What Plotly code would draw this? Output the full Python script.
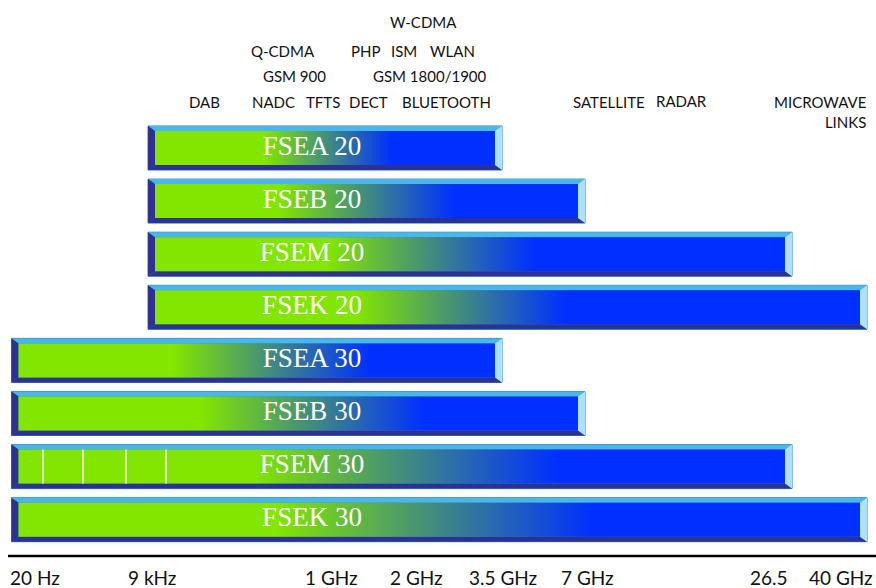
import plotly.graph_objects as go

# ---------------- data ----------------
models = ["FSEA 20", "FSEB 20", "FSEM 20", "FSEK 20",
          "FSEA 30", "FSEB 30", "FSEM 30", "FSEK 30"]
start_freq = ["9 kHz", "9 kHz", "9 kHz", "9 kHz",
              "20 Hz", "20 Hz", "20 Hz", "20 Hz"]
stop_freq = ["3.5 GHz", "7 GHz", "26.5 GHz", "40 GHz",
             "3.5 GHz", "7 GHz", "26.5 GHz", "40 GHz"]

tick_freqs = ["20 Hz", "9 kHz", "1 GHz", "2 GHz", "3.5 GHz", "7 GHz", "26.5 GHz", "40 GHz"]
tick_labels = ["20 Hz", "9 kHz", "1 GHz", "2 GHz", "3.5 GHz", "7 GHz", "26.5", "40 GHz"]
# position of each frequency on the chart's non-uniform frequency scale
tick_scale = [11.5, 148, 331, 416, 502, 585, 792, 867]

# application bands written above the bars
app_labels = ["W-CDMA", "Q-CDMA", "PHP", "ISM", "WLAN", "GSM 900", "GSM 1800/1900",
              "DAB", "NADC", "TFTS", "DECT", "BLUETOOTH", "SATELLITE", "RADAR",
              "MICROWAVE<br>LINKS"]

# decade dividers drawn in the FSEM 30 bar (scale positions)
fsem30_dividers = [43, 83, 126, 166]

# ---------------- layout helpers ----------------
W, H = 876, 588
ROW0, ROWSTEP = 148.0, 53.1          # pixel centre of first row, pixels per row
y_top = -ROW0 / ROWSTEP
y_bot = (H - ROW0) / ROWSTEP
HALF = 22.0 / ROWSTEP                # half bar height in row units
BX, BY = 7.0, 5.0 / ROWSTEP          # bevel thickness

GREEN, BLUE = "#82e600", "#0030ff"
NAVY, SKY, PALE, EDGE = "#2e3192", "#4db6e8", "#aee0f8", "#1b8ad0"

# gradient spans (fraction of bar width)
grad_from = [0.33, 0.30, 0.28, 0.29, 0.33, 0.33, 0.31, 0.31]
grad_to = [0.69, 0.70, 0.60, 0.58, 0.73, 0.72, 0.70, 0.68]

pos = dict(zip(tick_freqs, tick_scale))

fig = go.Figure()


def poly(xs, ys, color, line=None):
    fig.add_trace(go.Scatter(
        x=xs + [xs[0]], y=ys + [ys[0]], mode="lines", fill="toself",
        fillcolor=color, line=dict(width=0 if line is None else 1,
                                   color=line or color),
        hoverinfo="skip", showlegend=False))


for i, (m, s, e) in enumerate(zip(models, start_freq, stop_freq)):
    x0, x1 = pos[s], pos[e]
    yt, yb = i - HALF, i + HALF
    # outer frame
    poly([x0, x1, x1, x0], [yt, yt, yb, yb], EDGE, line=EDGE)
    # bevels
    poly([x0, x1, x1 - BX, x0 + BX], [yt, yt, yt + BY, yt + BY], SKY)
    poly([x0, x1, x1 - BX, x0 + BX], [yb, yb, yb - BY, yb - BY], NAVY)
    poly([x0, x0 + BX, x0 + BX, x0], [yt, yt + BY, yb - BY, yb], NAVY)
    poly([x1, x1 - BX, x1 - BX, x1], [yt, yt + BY, yb - BY, yb], PALE)
    # gradient face
    fx0, fx1 = x0 + BX, x1 - BX
    gs = x0 + grad_from[i] * (x1 - x0)
    ge = x0 + grad_to[i] * (x1 - x0)
    fig.add_trace(go.Scatter(
        x=[fx0, fx1, fx1, fx0, fx0], y=[yt + BY, yt + BY, yb - BY, yb - BY, yt + BY],
        mode="lines", fill="toself", line=dict(width=0),
        fillgradient=dict(type="horizontal", start=gs, stop=ge,
                          colorscale=[[0, GREEN], [1, BLUE]]),
        hoverinfo="skip", showlegend=False))
    if m == "FSEM 30":
        for d in fsem30_dividers:
            fig.add_trace(go.Scatter(
                x=[d, d], y=[yt + BY, yb - BY], mode="lines",
                line=dict(color="white", width=1.5),
                hoverinfo="skip", showlegend=False))

# model names on the bars
fig.add_trace(go.Scatter(
    x=[312] * len(models), y=list(range(len(models))), mode="text",
    text=models, textposition="middle center",
    textfont=dict(family="Liberation Serif", size=27, color="white"),
    hoverinfo="skip", showlegend=False))

annotations = []
# application labels: (x centre px, y centre px, anchor)
app_pos = [(423, 22, "center"), (283, 51, "center"), (365, 51, "center"),
           (404, 51, "center"), (452, 51, "center"), (294, 76, "center"),
           (430, 76, "center"), (204, 102, "center"), (273, 102, "center"),
           (323, 102, "center"), (368, 102, "center"), (446, 102, "center"),
           (609, 102, "center"), (681, 101, "center"), (868, 112, "right")]
for lab, (px, py, anc) in zip(app_labels, app_pos):
    annotations.append(dict(
        x=px, xref="x", y=1 - py / H, yref="paper", text=lab, showarrow=False,
        xanchor=anc, yanchor="middle", align="right",
        font=dict(family="Lato", size=15, color="#111111")))

# frequency axis labels
tick_anchor = ["left", "center", "center", "center", "center", "center", "right", "right"]
tick_shift = [-4, 4, 0, 0, 1, 2, -2, 8]
for lab, xv, anc, sh in zip(tick_labels, tick_scale, tick_anchor, tick_shift):
    annotations.append(dict(
        x=xv, xref="x", y=1 - 577 / H, yref="paper", text=lab, showarrow=False,
        xanchor=anc, yanchor="middle", xshift=sh,
        font=dict(family="Lato", size=19, color="#111111")))

fig.update_layout(
    width=W, height=H, margin=dict(l=0, r=0, t=0, b=0),
    paper_bgcolor="white", plot_bgcolor="white",
    xaxis=dict(range=[0, W], visible=False, fixedrange=True),
    yaxis=dict(range=[y_bot, y_top], visible=False, fixedrange=True),
    annotations=annotations,
    shapes=[dict(type="line", xref="x", yref="paper", x0=8, x1=W,
                 y0=1 - 556 / H, y1=1 - 556 / H,
                 line=dict(color="black", width=2.5))],
)

fig.write_html(
    "out.html",
    config={"displayModeBar": False},
    post_script="document.body.style.margin='0';document.body.style.overflow='hidden';",
)
